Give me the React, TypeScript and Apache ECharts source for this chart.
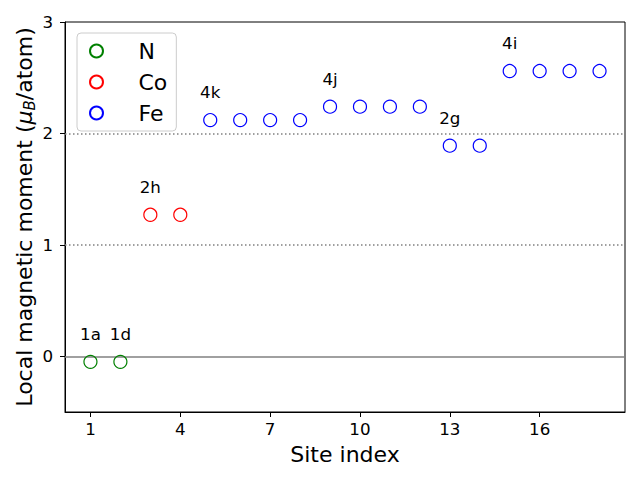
import React, { useEffect, useRef } from "react";
import * as echarts from "echarts";

const nSites = [1, 2];
const nValues = [-0.05, -0.05];
const coSites = [3, 4];
const coValues = [1.27, 1.27];
const feSites = [5, 6, 7, 8, 9, 10, 11, 12, 13, 14, 15, 16, 17, 18];
const feValues = [2.12, 2.12, 2.12, 2.12, 2.24, 2.24, 2.24, 2.24, 1.89, 1.89, 2.56, 2.56, 2.56, 2.56];
const labelSites = [1, 2, 3, 5, 9, 13, 15];
const labelTexts = ["1a", "1d", "2h", "4k", "4j", "2g", "4i"];
const xTicks = [1, 4, 7, 10, 13, 16];
const yTicks = [0, 1, 2, 3];
const refLines = [0, 1, 2];

const FONT = "DejaVu Sans";

function makeData(sites: number[], values: number[]) {
  return sites.map((s, i) => {
    const li = labelSites.indexOf(s);
    const d: any = { value: [s, values[i]] };
    if (li >= 0) {
      d.label = {
        show: true,
        formatter: labelTexts[li],
        position: "top",
        distance: 12,
        color: "#000",
        fontSize: 16.7,
        fontFamily: FONT,
      };
    }
    return d;
  });
}

export default function App() {
  const ref = useRef<HTMLDivElement>(null);
  useEffect(() => {
    if (!ref.current) return;
    const chart = echarts.init(ref.current, null, { renderer: "svg" });
    const mk = (name: string, color: string, sites: number[], values: number[], withLines: boolean) => ({
      name,
      type: "scatter",
      symbol: "circle",
      symbolSize: 13,
      itemStyle: { color: "rgba(0,0,0,0)", borderColor: color, borderWidth: 1.2, opacity: 1 },
      data: makeData(sites, values),
      z: 3,
      markLine: withLines
        ? {
            silent: true,
            symbol: "none",
            label: { show: false },
            z: 1,
            data: refLines.map((v) => ({
              yAxis: v,
              lineStyle:
                v === 0
                  ? { color: "#808080", width: 1.5, type: "solid" }
                  : { color: "#808080", width: 1.5, type: [1.5, 2.5] },
            })),
          }
        : undefined,
    });
    chart.setOption({
      animation: false,
      backgroundColor: "#fff",
      grid: {
        left: 65,
        right: 15,
        top: 22,
        bottom: 68,
        show: true,
        outerBoundsMode: "none",
        containLabel: false,
        borderColor: "#000",
        borderWidth: 1,
        backgroundColor: "transparent",
      },
      legend: {
        left: 77,
        top: 33,
        orient: "vertical",
        padding: [7, 9, 7, 12],
        itemWidth: 34,
        itemHeight: 13,
        itemGap: 9,
        backgroundColor: "rgba(255,255,255,0.8)",
        borderColor: "#cccccc",
        borderWidth: 1,
        borderRadius: 4,
        textStyle: {
          fontSize: 22,
          fontFamily: FONT,
          color: "#000",
          lineHeight: 22,
          padding: [0, 0, 0, 20],
        },
        data: ["N", "Co", "Fe"],
      },
      xAxis: {
        type: "value",
        min: 0.15,
        max: 18.85,
        name: "Site index",
        nameLocation: "middle",
        nameGap: 31,
        nameMoveOverlap: false,
        nameTextStyle: { fontSize: 22, fontFamily: FONT, color: "#000" },
        axisLine: { show: true, onZero: false, lineStyle: { color: "#000", width: 1 } },
        axisTick: { show: true, length: 5, customValues: xTicks, lineStyle: { color: "#000" } },
        axisLabel: { customValues: xTicks, fontSize: 16.7, fontFamily: FONT, color: "#000", margin: 8 },
        splitLine: { show: false },
      },
      yAxis: {
        type: "value",
        min: -0.5,
        max: 3,
        name: "{a|Local magnetic moment (}{i|μ}{s|B}{a|/atom)}",
        nameLocation: "middle",
        nameGap: 28,
        nameMoveOverlap: false,
        nameRotate: 90,
        nameTextStyle: {
          fontSize: 22,
          fontFamily: FONT,
          color: "#000",
          rich: {
            a: { fontSize: 22, fontFamily: FONT, color: "#000" },
            i: { fontSize: 22, fontFamily: FONT, fontStyle: "italic", color: "#000" },
            s: { fontSize: 15, fontFamily: FONT, fontStyle: "italic", color: "#000", padding: [10, 0, 0, 0] },
          },
        },
        axisLine: { show: true, onZero: false, lineStyle: { color: "#000", width: 1 } },
        axisTick: { show: true, length: 5, customValues: yTicks, lineStyle: { color: "#000" } },
        axisLabel: { customValues: yTicks, fontSize: 16.7, fontFamily: FONT, color: "#000", margin: 12 },
        splitLine: { show: false },
      },
      series: [
        mk("N", "green", nSites, nValues, true),
        mk("Co", "red", coSites, coValues, false),
        mk("Fe", "blue", feSites, feValues, false),
      ],
    });
    return () => chart.dispose();
  }, []);
  return <div ref={ref} style={{ width: 640, height: 480, position: "absolute", left: 0, top: 0 }} />;
}
